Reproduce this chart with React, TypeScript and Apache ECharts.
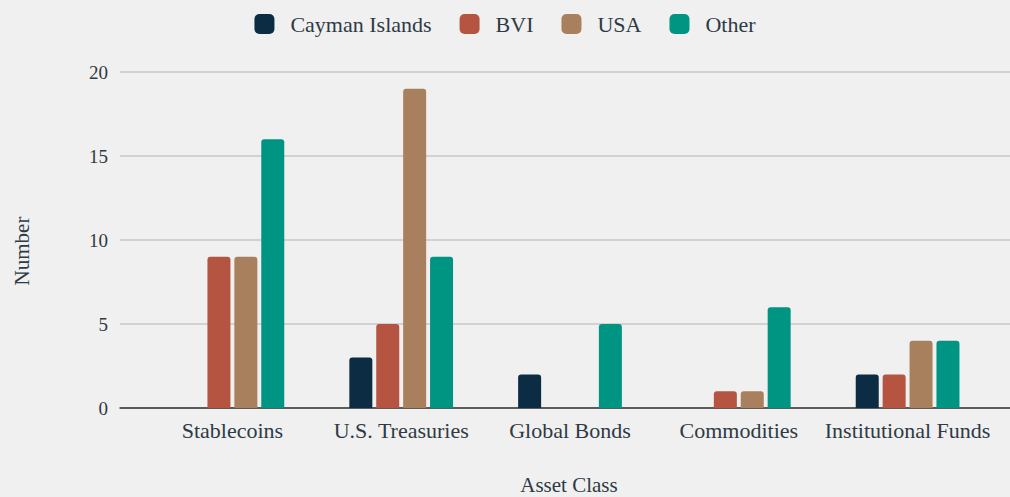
import React, { useEffect, useRef } from "react";
import * as echarts from "echarts";

const categories = ["Stablecoins", "U.S. Treasuries", "Global Bonds", "Commodities", "Institutional Funds"];
const seriesNames = ["Cayman Islands", "BVI", "USA", "Other"];
const cayman = [0, 3, 2, 0, 2];
const bvi = [9, 5, 0, 1, 2];
const usa = [9, 19, 0, 1, 4];
const other = [16, 9, 5, 6, 4];
const colors = ["#0b2c42", "#b55440", "#a9805d", "#009483"];

const FONT = "Liberation Serif";
const TXT = "#2e3a44";

export default function App() {
  const ref = useRef<HTMLDivElement>(null);
  useEffect(() => {
    const chart = echarts.init(ref.current!, null, { renderer: "svg" });
    const values = [cayman, bvi, usa, other];
    chart.setOption({
      animation: false,
      backgroundColor: "#f0f0f0",
      textStyle: { fontFamily: FONT },
      legend: {
        top: 8,
        left: "center",
        itemWidth: 20,
        itemHeight: 20,
        itemGap: 28,
        icon: "roundRect",
        textStyle: { fontFamily: FONT, fontSize: 22, color: TXT, padding: [0, 0, 0, 11] },
        data: seriesNames,
      },
      grid: [
        { left: 120, right: 0, top: 72, bottom: 89, outerBoundsMode: "none" },
        { left: 148, right: 18, top: 72, bottom: 89, outerBoundsMode: "none" },
      ],
      xAxis: [
        {
          gridIndex: 0,
          type: "value",
          min: 0,
          max: 1,
          axisLine: { show: true, onZero: false, lineStyle: { color: "#333", width: 1.5 } },
          axisTick: { show: false },
          axisLabel: { show: false },
          splitLine: { show: false },
          name: "Asset Class",
          nameLocation: "middle",
          nameGap: 66,
          nameTextStyle: { fontFamily: FONT, fontSize: 21, color: TXT, padding: [0, 0, 0, 8] },
        },
        {
          gridIndex: 1,
          type: "category",
          data: categories,
          axisLine: { show: false },
          axisTick: { show: false },
          axisLabel: { fontFamily: FONT, fontSize: 22, color: TXT, margin: 11, interval: 0 },
        },
      ],
      yAxis: [
        {
          gridIndex: 0,
          type: "value",
          min: 0,
          max: 20,
          interval: 5,
          axisLine: { show: false },
          axisTick: { show: false },
          axisLabel: { fontFamily: FONT, fontSize: 19, color: TXT, margin: 12 },
          splitLine: { show: true, lineStyle: { color: "#c8c8c8", width: 1.5 } },
          name: "Number",
          nameLocation: "middle",
          nameGap: 88,
          nameTextStyle: { fontFamily: FONT, fontSize: 21, color: TXT, padding: [0, 22, 0, 0] },
        },
        {
          gridIndex: 1,
          type: "value",
          min: 0,
          max: 20,
          interval: 5,
          show: false,
        },
      ],
      series: seriesNames.map((name, i) => ({
        name,
        type: "bar",
        xAxisIndex: 1,
        yAxisIndex: 1,
        data: values[i],
        barWidth: 23,
        barGap: "17%",
        itemStyle: { color: colors[i], borderRadius: [3, 3, 0, 0] },
      })),
    });
    return () => chart.dispose();
  }, []);
  return <div ref={ref} style={{ width: 1010, height: 497, position: "absolute", left: 0, top: 0 }} />;
}
